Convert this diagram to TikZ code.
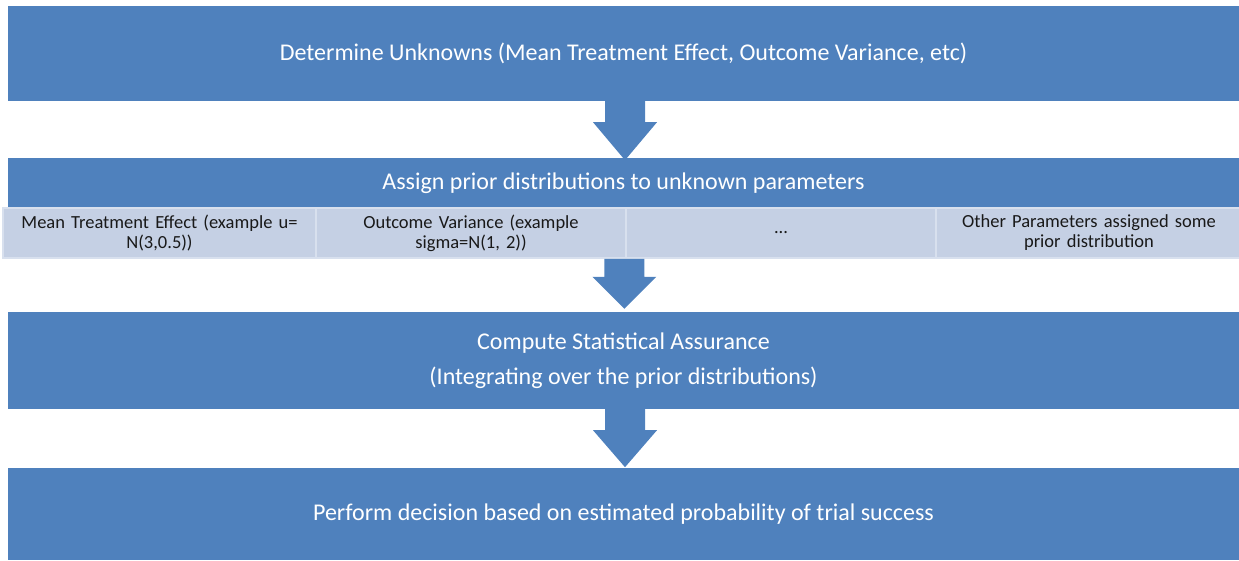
\documentclass[tikz,border=0pt]{standalone}
\usepackage{fontspec}
\setmainfont{Carlito}
\usetikzlibrary{calc}
\definecolor{boxblue}{HTML}{4F81BD}
\definecolor{sublight}{HTML}{C5D0E4}
\definecolor{subedge}{HTML}{D8E0EE}
\tikzset{
  bigbox/.style={fill=boxblue, draw=none, text=white, inner sep=0pt,
    minimum width=1231pt, font=\fontsize{24}{28}\selectfont, align=center},
  subbox/.style={fill=sublight, draw=subedge, line width=1.5pt, text=black!90,
    inner sep=0pt, minimum height=50pt, font=\fontsize{18.5}{20}\selectfont, align=center},
  blockarrow/.style={fill=boxblue, draw=none}
}
\begin{document}
\begin{tikzpicture}[x=1pt,y=-1pt]
\useasboundingbox (0,0) rectangle (1239,560);
% boxes
\node[bigbox, minimum height=95pt] (b1) at (623.5,53.5)
  {Determine Unknowns (Mean Treatment Effect, Outcome Variance, etc)};
\node[bigbox, minimum height=50pt] (b2) at (623.5,183)
  {Assign prior distributions to unknown parameters};
\node[subbox, minimum width=313pt, text width=305pt] (s1) at (159.5,233)
  {Mean Treatment Effect (example u=\\N(3,0.5))};
\node[subbox, minimum width=310pt, text width=305pt] (s2) at (471,233)
  {Outcome Variance (example\\sigma=N(1, 2))};
\node[subbox, minimum width=310pt, text width=305pt] (s3) at (781,233)
  {...};
\node[subbox, minimum width=305pt, text width=295pt] (s4) at (1089,233)
  {Other Parameters assigned some\\prior distribution};
\node[bigbox, minimum height=97pt, font=\fontsize{24}{35}\selectfont] (b3) at (623.5,360.5)
  {Compute Statistical Assurance\\(Integrating over the prior distributions)};
\node[bigbox, minimum height=92pt] (b4) at (623.5,514)
  {Perform decision based on estimated probability of trial success};
% block arrows
\fill[blockarrow] ($(b1.south)+(-18.5,-0.5)$) -- ($(b1.south)+(21.5,-0.5)$)
  -- ($(b1.south)+(21.5,21)$) -- ($(b1.south)+(33.5,21)$)
  -- ($(b1.south)+(1.5,59)$) -- ($(b1.south)+(-30.5,21)$)
  -- ($(b1.south)+(-18.5,21)$) -- cycle;
\fill[blockarrow] ($(s3.south west)+(-21,0)$) -- ($(s3.south west)+(19,0)$)
  -- ($(s3.south west)+(19,18)$) -- ($(s3.south west)+(31,18)$)
  -- ($(s3.south west)+(-1,50)$) -- ($(s3.south west)+(-33,18)$)
  -- ($(s3.south west)+(-21,18)$) -- cycle;
\fill[blockarrow] ($(b3.south)+(-18.5,-0.5)$) -- ($(b3.south)+(21.5,-0.5)$)
  -- ($(b3.south)+(21.5,21)$) -- ($(b3.south)+(33.5,21)$)
  -- ($(b3.south)+(1.5,58)$) -- ($(b3.south)+(-30.5,21)$)
  -- ($(b3.south)+(-18.5,21)$) -- cycle;
\end{tikzpicture}
\end{document}
